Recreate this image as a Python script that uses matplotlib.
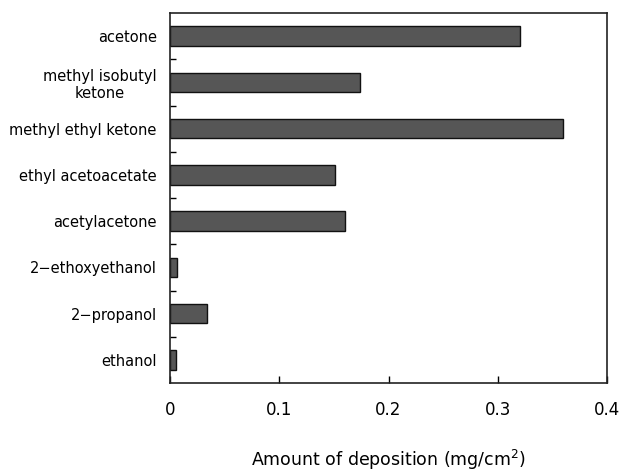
import matplotlib
matplotlib.use("Agg")
import matplotlib.pyplot as plt
import numpy as np

categories = ["acetone", "methyl isobutyl\nketone", "methyl ethyl ketone",
              "ethyl acetoacetate", "acetylacetone", "2\u2212ethoxyethanol",
              "2\u2212propanol", "ethanol"]
values = [0.320, 0.174, 0.360, 0.151, 0.160, 0.0067, 0.034, 0.0055]
xticks = [0, 0.1, 0.2, 0.3, 0.4]
xticklabels = ["0", "0.1", "0.2", "0.3", "0.4"]

plt.rcParams['font.family'] = ['DejaVu Sans']

fig = plt.figure(figsize=(6.19, 4.71), dpi=100)
ax = fig.add_axes([170/619, 88/471, 437/619, 370/471])

n = len(categories)
ypos = np.arange(n)[::-1]
ax.barh(ypos, values, height=0.42, color="#565656", edgecolor="#111111", linewidth=1.0)

ax.set_xlim(0, 0.4)
ax.set_ylim(-0.5, n - 0.5)
ax.set_yticks(ypos)
ax.set_yticklabels(categories, fontsize=10.5, multialignment="center")
ax.set_yticks(np.arange(n - 1) + 0.5, minor=True)
ax.tick_params(axis="y", which="major", length=0, pad=9.5)
ax.tick_params(axis="y", which="minor", direction="in", length=4, width=1)
ax.set_xticks(xticks)
ax.set_xticklabels(xticklabels, fontsize=12)
ax.tick_params(axis="x", which="major", direction="in", length=5, width=1, pad=13)
ax.set_xlabel("Amount of deposition (mg/cm$^2$)", fontsize=12.5, labelpad=21)
for s in ax.spines.values():
    s.set_linewidth(1.2)
    s.set_color("#222222")

fig.savefig("out.png", dpi=100)
